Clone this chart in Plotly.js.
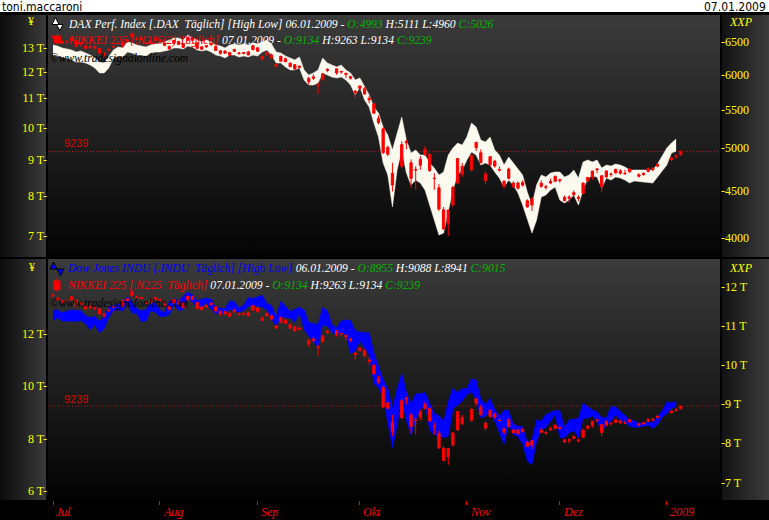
<!DOCTYPE html>
<html><head><meta charset="utf-8">
<script src="https://cdn.plot.ly/plotly-3.0.1.min.js"></script>
<style>
html,body{margin:0;padding:0;background:#000;width:769px;height:520px;overflow:hidden;}
#wrap{position:relative;width:769px;height:520px;background:#000;}
.bg{position:absolute;}
#chart{position:absolute;left:0;top:0;width:769px;height:520px;}
</style></head><body>
<div id="wrap">
<div class="bg" style="left:0;top:0;width:769px;height:12px;background:#fff"></div>
<div class="bg" style="left:0;top:15px;width:46px;height:242px;background:linear-gradient(to right,#0b0b0b,#3a3a3a)"></div>
<div class="bg" style="left:0;top:259px;width:46px;height:241px;background:linear-gradient(to right,#0b0b0b,#3a3a3a)"></div>
<div class="bg" style="left:722px;top:15px;width:47px;height:242px;background:linear-gradient(to right,#121212,#3c3c3c)"></div>
<div class="bg" style="left:722px;top:259px;width:47px;height:241px;background:linear-gradient(to right,#121212,#3c3c3c)"></div>
<div class="bg" style="left:48px;top:15px;width:672px;height:242px;background:linear-gradient(to bottom,#3b3b3b,#040404)"></div>
<div class="bg" style="left:48px;top:259px;width:672px;height:241px;background:linear-gradient(to bottom,#3b3b3b,#020202)"></div>
<div id="chart"></div>
</div>
<script>
// ---- calendar (union of trading days) ----
const firstDay = '2008-07-01', lastDay = '2009-01-07';
const closedAll = ['2009-01-01'];
const monthNames = ['Jul','Aug','Sep','Okt','Nov','Dez','2009'];

// ---- DAX (High/Low band), 06.01.2009 last ----
const daxHigh = [6452,6436,6404,6388,6373,6341,6357,6325,6294,6248,
6186,6171,6263,6373,6420,6404,6500,6484,6452,6436,
6420,6452,6468,6484,6500,6532,6565,6565,6532,6614,
6565,6532,6500,6532,6500,6452,6436,6404,6452,6468,
6452,6468,6452,6484,6468,6500,6532,6468,6341,6325,
6279,6248,6217,6263,6065,5990,6020,6065,6248,6171,
6140,6110,6140,6065,6020,5916,5946,5815,5700,5533,
5452,5266,5163,4974,5189,5398,5099,4938,4974,4913,
4913,4817,4758,4676,4711,4913,4999,5061,5036,5137,
5318,5266,5099,5074,5137,4974,4913,4793,4889,4817,
4734,4676,4483,4341,4561,4676,4653,4699,4711,4711,
4653,4676,4734,4641,4829,4853,4829,4853,4758,4793,
4781,4805,4793,4769,4734,4734,null,null,null,4734,
4805,null,4999,5061,5111,null];
const daxLow = [6294,6279,6263,6248,6217,6186,6186,6171,6140,6095,
6020,6020,6095,6248,6279,6263,6341,6325,6294,6294,
6279,6325,6341,6341,6357,6373,6404,6404,6388,6436,
6420,6373,6357,6373,6341,6294,6279,6248,6294,6294,
6263,6279,6263,6294,6279,6341,6373,6294,6171,6171,
6110,6065,6065,6095,5916,5843,5843,5872,6020,5990,
5960,5946,5960,5916,5843,5700,5815,5630,5533,5318,
5137,4817,4676,4320,4734,4974,4699,4561,4618,4584,
4505,4341,4183,4030,4050,4288,4505,4676,4734,4853,
4950,4913,4793,4817,4793,4711,4641,4539,4618,4561,
4472,4341,4183,4050,4183,4428,4450,4505,4539,4395,
4363,4395,4450,4341,4505,4641,4664,4653,4528,4641,
4618,4653,4641,4618,4584,4607,null,null,null,4584,
4653,null,4793,4938,4960,null];
const daxLegend = ['06.01.2009', 4993, 5111, 4960, 5026];

// ---- Dow Jones INDU (High/Low band) ----
const dowHigh = [11400,11420,11345,null,11420,11400,11400,11270,11220,11250,
11120,11250,11490,11530,11560,11620,11760,11640,11450,11390,
11420,11600,11590,11420,11340,11630,11700,11650,11760,11870,
11800,11650,11690,11720,11690,11480,11460,11450,11650,11630,
11460,11540,11730,11710,null,11790,11580,11530,11240,11640,
11510,11370,11440,11480,11420,11100,11060,11050,11480,11390,
11040,10960,11130,11160,11140,10880,10850,10830,10840,10320,
9970,9640,9400,8900,9390,9800,9310,9010,9270,9270,
9300,9030,8770,8710,8560,9070,9410,9300,9400,9400,
9650,9620,9140,8990,9150,8870,8690,8850,8830,8500,
8440,8430,8020,8100,8600,8570,8740,null,8840,8830,
8420,8600,8620,8640,9030,8940,8850,8810,8660,8650,
8940,8930,8830,8730,8610,8580,8510,null,8550,8530,
8680,8830,9060,9030,9088,null];
const dowLow = [11133,11210,11130,null,11130,11120,11140,11060,10900,11030,
10830,10930,11220,11400,11410,11390,11570,11330,11330,11110,
11130,11390,11350,11240,11240,11290,11550,11400,11420,11710,
11620,11460,11500,11590,11440,11320,11320,11330,11430,11370,
11360,11400,11500,11530,null,11480,11420,11180,11000,11220,
11220,11200,11100,11330,10910,10740,10590,10460,11020,11000,
10840,10780,10820,10770,10300,10360,10620,10450,10270,9530,
9420,9150,8560,7880,8450,9150,8560,8200,8570,8850,
8990,8330,8210,8180,8150,8170,8890,8970,9080,9240,
9310,9130,8650,8690,8800,8560,8270,7970,8480,8230,
8160,7980,7540,7450,8040,8350,8400,null,8720,8140,
8140,8260,8330,8130,8640,8640,8690,8560,8290,8460,
8560,8720,8580,8540,8430,8400,8410,null,8460,8380,
8480,8660,8760,8890,8941,null];
const dowLegend = ['06.01.2009', 8955, 9088, 8941, 9015];

// ---- NIKKEI 225 (candles) ----
const nikOpen = [13470,13360,13180,13250,13300,13280,13110,13060,13000,12980,
12950,12690,12900,13020,null,13050,13330,13450,13400,13380,
13200,13260,13300,13300,13180,13030,13170,13250,13000,13300,
13420,13190,12920,13080,13110,13030,12750,12840,12780,12830,
12730,12780,12800,12900,12980,12500,12780,12680,12300,12420,
12520,12200,12280,12170,null,11740,11800,11480,11700,12050,
null,11950,11990,11940,11810,11200,11450,11350,11000,10800,
10300,9950,9360,8600,null,8800,9500,8900,8700,8830,
9150,9150,8450,8200,7630,7300,7750,8330,8800,null,
8700,9350,9200,8400,8840,8950,8700,8380,8720,8220,
8190,8350,7860,7750,null,8240,8230,8330,8380,8420,
7950,7920,8070,7950,8050,8480,8490,8700,8530,8500,
8580,8710,8600,8600,8640,null,8560,8560,8650,8700,
8800,null,null,8990,9100,9134];
const nikHigh = [13540,13420,13300,13300,13430,13300,13200,13100,13080,13060,
12960,12780,12960,13080,null,13280,13370,13620,13450,13420,
13230,13330,13400,13330,13230,13080,13310,13280,13180,13440,
13440,13210,13050,13100,13180,13050,12880,12870,12800,12930,
12800,12800,12850,13090,13000,12650,12810,12740,12330,12640,
12570,12350,12300,12250,null,11800,11900,11580,11930,12140,
null,12120,12040,11950,11840,11300,11460,11410,11100,10840,
10400,10000,9420,8900,null,9550,9600,9000,8800,9100,
9400,9200,8600,8300,7700,7640,8250,9030,8900,null,
9150,9520,9300,8650,9090,8990,8800,8400,8760,8380,
8370,8400,7900,7950,null,8400,8280,8450,8540,8450,
7990,8000,8130,8000,8340,8500,8680,8740,8550,8680,
8620,8730,8720,8700,8750,null,8600,8620,8760,8770,
8880,null,null,9080,9160,9263];
const nikLow = [13370,13260,13150,13190,13240,13010,13070,12910,12940,12900,
12740,12600,12830,12960,null,13000,13200,13430,13300,13300,
13120,13150,13260,13230,13060,12880,13160,13100,12970,13280,
13280,12920,12880,12980,13070,12840,12690,12730,12640,12800,
12700,12700,12660,12890,12820,12480,12660,12530,12180,12410,
12390,12180,12080,12120,null,11500,11680,11160,11650,11980,
null,11880,11920,11750,11700,11000,11300,11130,10820,10470,
10100,9160,9100,8100,null,8750,9300,8200,8150,8700,
9100,8640,8150,7600,7140,6995,7700,8300,8500,null,
8650,9250,8890,8300,8810,8760,8650,8180,8430,8200,
8150,8230,7680,7600,null,8200,8150,8300,8350,8340,
7840,7800,7970,7850,8040,8340,8420,8600,8090,8470,
8500,8590,8560,8560,8620,null,8480,8540,8630,8660,
8770,null,null,8950,9020,9134];
const nikClose = [13463,13287,13238,13237,13405,13033,13185,12949,13039,13039,
12754,12760,12887,13022,null,13270,13269,13604,13334,13353,
13159,13160,13376,13270,13089,12934,13303,13124,13168,13430,
13303,12956,13020,13019,13165,12865,12851,12752,12666,12911,
12755,12752,12679,13072,12834,12609,12689,12557,12212,12624,
12400,12346,12103,12214,null,11609,11749,11489,11920,12090,
null,12115,12006,11893,11743,11259,11368,11154,10938,10473,
10155,9203,9157,8276,null,9447,9547,8458,8693,9005,
9306,8674,8460,7649,7162,7621,8211,9029,8577,null,
9114,9521,8899,8583,9081,8809,8693,8238,8462,8329,
8328,8273,7703,7910,null,8324,8213,8373,8512,8397,
7863,7957,8016,7917,8329,8395,8660,8720,8235,8665,
8568,8612,8667,8588,8723,null,8517,8599,8739,8747,
8859,null,null,9043,9080,9239];
const nikLegendDate = '07.01.2009';

// ---- axis ticks ----
const nikTopTicks = [7000,8000,9000,10000,11000,12000,13000];
const daxTicks = [4000,4500,5000,5500,6000,6500];
const nikBotTicks = [6000,8000,10000,12000];
const dowTicks = [7000,8000,9000,10000,11000,12000];

// ---- build calendar ----
function tradingDays(){
  const out=[]; let t=Date.parse(firstDay+'T00:00:00Z'); const end=Date.parse(lastDay+'T00:00:00Z');
  while(t<=end){const d=new Date(t);const wd=d.getUTCDay();const s=d.toISOString().slice(0,10);
    if(wd!==0&&wd!==6&&closedAll.indexOf(s)<0) out.push(s); t+=864e5;}
  return out;
}
const days = tradingDays();
const idx = days.map((d,i)=>i);
const monthTicks=[]; days.forEach((d,i)=>{ if(i===0||d.slice(0,7)!==days[i-1].slice(0,7)) monthTicks.push(i); });

// ---- pixel helpers for decorations ----
const PL=48, PR=720, PT=15, PB=500;
const px=x=>(x-PL)/(PR-PL), py=y=>(PB-y)/(PB-PT);
const serif='Liberation Serif, DejaVu Serif, serif';
const YEL='#ffff00', GRN='#00b400', RED='#ff0000', WHT='#ffffff', CREAM='#fcf9ee', BLUE='#0000ff';
const LEG=11.6;
function ann(text,x,y,font,extra){return Object.assign({text:text,x:px(x),y:py(y),xref:'paper',yref:'paper',showarrow:false,xanchor:'left',yanchor:'middle',font:font},extra||{});}
function pathShape(pts,fill,line,lw){return {type:'path',xref:'paper',yref:'paper',layer:'above',path:'M'+pts.map(p=>px(p[0])+','+py(p[1])).join(' L')+' Z',fillcolor:fill,line:{color:line,width:lw}};}
function g(s){return '<span style="color:'+GRN+'">'+s+'</span>';}
function ohlcText(a){return ' '+a[0]+' - '+g('O:'+a[1])+' H:'+a[2]+' L:'+a[3]+' '+g('C:'+a[4]);}
const last = nikClose.length-1;
const nikLeg = [nikLegendDate, nikOpen[last], nikHigh[last], nikLow[last], nikClose[last]];

const candleStyle={line:{color:RED,width:1},fillcolor:RED};
const traces=[
 {x:idx,y:daxLow,yaxis:'y',mode:'lines',line:{color:CREAM,width:0.5},connectgaps:true,hoverinfo:'skip'},
 {x:idx,y:daxHigh,yaxis:'y',mode:'lines',line:{color:CREAM,width:0.5},fill:'tonexty',fillcolor:CREAM,connectgaps:true,hoverinfo:'skip'},
 {type:'candlestick',x:idx,open:nikOpen,high:nikHigh,low:nikLow,close:nikClose,yaxis:'y2',increasing:candleStyle,decreasing:candleStyle,whiskerwidth:0,hoverinfo:'skip'},
 {x:idx,y:dowLow,yaxis:'y3',mode:'lines',line:{color:BLUE,width:0.5},connectgaps:true,hoverinfo:'skip'},
 {x:idx,y:dowHigh,yaxis:'y3',mode:'lines',line:{color:BLUE,width:0.5},fill:'tonexty',fillcolor:BLUE,connectgaps:true,hoverinfo:'skip'},
 {type:'candlestick',x:idx,open:nikOpen,high:nikHigh,low:nikLow,close:nikClose,yaxis:'y4',increasing:candleStyle,decreasing:candleStyle,whiskerwidth:0,hoverinfo:'skip'}
];

const tickFont={family:serif,size:12,color:YEL};
const yBase={showgrid:false,zeroline:false,showline:false,ticks:'',tickfont:tickFont,tickmode:'array',fixedrange:true};
const topDom=[(PB-257)/(PB-PT),1], botDom=[0,(PB-259)/(PB-PT)];
const xRight=(PR-53)/4.65;

const layout={
 width:769,height:520,margin:{l:PL,r:769-PR,t:PT,b:520-PB},
 paper_bgcolor:'rgba(0,0,0,0)',plot_bgcolor:'rgba(0,0,0,0)',showlegend:false,
 xaxis:{domain:[0,1],anchor:'y3',range:[-(53-PL)/4.65,xRight],tickmode:'array',tickvals:monthTicks,ticks:'outside',ticklen:4,tickwidth:1,tickcolor:RED,showticklabels:false,showgrid:false,zeroline:false,showline:false,rangeslider:{visible:false},fixedrange:true},
 yaxis:Object.assign({},yBase,{domain:topDom,anchor:'x',side:'right',type:'log',range:[3.58173,3.84194],tickvals:daxTicks,ticktext:daxTicks.map(v=>'-'+v)}),
 yaxis2:Object.assign({},yBase,{overlaying:'y',anchor:'x',side:'left',type:'log',range:[3.81522,4.16000],tickvals:nikTopTicks,ticktext:nikTopTicks.map(v=>(v/1000)+' T-')}),
 yaxis3:Object.assign({},yBase,{domain:botDom,anchor:'x',side:'right',range:[6547,12717],tickvals:dowTicks,ticktext:dowTicks.map(v=>'-'+(v/1000)+' T')}),
 yaxis4:Object.assign({},yBase,{overlaying:'y3',anchor:'x',side:'left',range:[5657,14849],tickvals:nikBotTicks,ticktext:nikBotTicks.map(v=>(v/1000)+' T-')}),
 shapes:[
  {type:'line',xref:'paper',x0:0,x1:1,yref:'y2',y0:nikClose[last],y1:nikClose[last],layer:'below',line:{color:'#c01818',width:1,dash:'1px,2px'}},
  {type:'line',xref:'paper',x0:0,x1:1,yref:'y4',y0:nikClose[last],y1:nikClose[last],layer:'below',line:{color:'#c01818',width:1,dash:'1px,2px'}},
  // DAX legend icon
  pathShape([[52,24.5],[55.5,17.5],[59,24.5]],WHT,'#000',1),
  pathShape([[56.5,24.5],[63,24.5],[59.8,30.5]],WHT,'#000',1),
  // NIKKEI icon top
  {type:'line',xref:'paper',yref:'paper',x0:px(57.5),x1:px(57.5),y0:py(33),y1:py(46),line:{color:RED,width:1}},
  {type:'rect',xref:'paper',yref:'paper',x0:px(54),x1:px(61),y0:py(35.5),y1:py(43.5),fillcolor:RED,line:{width:0}},
  // Dow legend icon
  {type:'line',xref:'paper',yref:'paper',x0:px(53.5),x1:px(60.5),y0:py(265),y1:py(273),line:{color:'#000',width:1}},
  pathShape([[50,269],[53.5,262],[57,269]],BLUE,'#000',1),
  pathShape([[57,269],[64,269],[60.5,276]],BLUE,'#000',1),
  // NIKKEI icon bottom
  {type:'line',xref:'paper',yref:'paper',x0:px(57),x1:px(57),y0:py(278),y1:py(292),line:{color:RED,width:1}},
  {type:'rect',xref:'paper',yref:'paper',x0:px(53.5),x1:px(60.5),y0:py(280.5),y1:py(290),fillcolor:RED,line:{width:0}}
 ],
 annotations:[
  ann('toni.maccaroni',0,6.5,{family:'Liberation Sans Narrow, DejaVu Sans Condensed, sans-serif',size:12,color:'#000'}),
  ann(nikLegendDate,768,6.5,{family:'Liberation Sans Narrow, DejaVu Sans Condensed, sans-serif',size:12,color:'#000'},{xanchor:'right'}),
  ann('¥',26,21.5,{family:serif,size:12,color:YEL}),
  ann('¥',27,266.5,{family:serif,size:12,color:YEL}),
  ann('XXP',727,22.5,{family:serif,size:12,color:YEL,style:'italic'}),
  ann('XXP',727,267.5,{family:serif,size:12,color:YEL,style:'italic'}),
  ann('DAX Perf. Index [.DAX  Täglich] [High Low]'+ohlcText(daxLegend),66,24.5,{family:serif,size:LEG,color:WHT,style:'italic'}),
  ann('<span style="color:'+RED+'">NIKKEI 225 [.N225(2) Täglich]</span>'+ohlcText(nikLeg),66,40,{family:serif,size:LEG,color:WHT,style:'italic'}),
  ann('©www.tradesignalonline.com',48,58.5,{family:serif,size:LEG,color:'#000',style:'italic'}),
  ann('<span style="color:'+BLUE+'">Dow Jones INDU [.INDU  Täglich] [High Low]</span>'+ohlcText(dowLegend),65,268.5,{family:serif,size:LEG,color:WHT,style:'italic'}),
  ann('<span style="color:'+RED+'">NIKKEI 225 [.N225  Täglich]</span>'+ohlcText(nikLeg),65,285,{family:serif,size:LEG,color:WHT,style:'italic'}),
  ann('©www.tradesignalonline.com',48,303,{family:serif,size:LEG,color:'#000',style:'italic'}),
  ann(String(nikClose[last]),62,143.5,{family:'Liberation Sans, DejaVu Sans, sans-serif',size:11,color:'#e00000'}),
  ann(String(nikClose[last]),62,399,{family:'Liberation Sans, DejaVu Sans, sans-serif',size:11,color:'#e00000'})
 ].concat(monthTicks.map((i,k)=>({text:monthNames[k],x:i,xref:'x',y:py(512),yref:'paper',xanchor:'left',yanchor:'middle',xshift:1,showarrow:false,font:{family:serif,size:12,color:RED,style:'italic'}})))
};
Plotly.newPlot('chart',traces,layout,{staticPlot:true,displayModeBar:false});
</script>
</body></html>
